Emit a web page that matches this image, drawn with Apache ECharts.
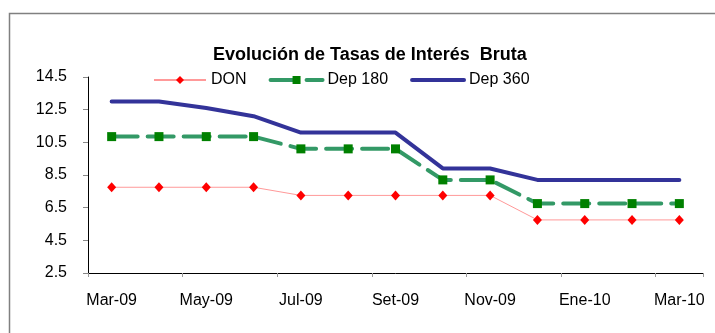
<!DOCTYPE html>
<html>
<head>
<meta charset="utf-8">
<script src="https://cdn.jsdelivr.net/npm/echarts@6/dist/echarts.min.js"></script>
<style>
  html, body { margin: 0; padding: 0; background: #ffffff; }
  #chart { width: 715px; height: 333px; }
</style>
</head>
<body>
<div id="chart"></div>
<script>
// Monthly categories, March 2009 to March 2010
const months = ['Mar-09', 'Abr-09', 'May-09', 'Jun-09', 'Jul-09', 'Ago-09', 'Set-09',
                'Oct-09', 'Nov-09', 'Dic-09', 'Ene-10', 'Feb-10', 'Mar-10'];

// Gross interest rates (%)
const don    = [7.75, 7.75, 7.75, 7.75, 7.25, 7.25, 7.25, 7.25, 7.25, 5.75, 5.75, 5.75, 5.75];
const dep180 = [10.85, 10.85, 10.85, 10.85, 10.1, 10.1, 10.1, 8.2, 8.2, 6.75, 6.75, 6.75, 6.75];
const dep360 = [13.0, 13.0, 12.6, 12.1, 11.1, 11.1, 11.1, 8.9, 8.9, 8.2, 8.2, 8.2, 8.2];

// Value-axis tick labels
const yTicks = [2.5, 4.5, 6.5, 8.5, 10.5, 12.5, 14.5];

const FONT = "'Liberation Sans', Arial, sans-serif";

const chart = echarts.init(document.getElementById('chart'), null, { renderer: 'canvas' });

chart.setOption({
  backgroundColor: '#ffffff',
  animation: false,
  graphic: [{
    type: 'rect',
    shape: { x: 9.5, y: 13.5, width: 720, height: 340 },
    style: { fill: 'none', stroke: '#808080', lineWidth: 1.5 },
    silent: true
  }],
  title: {
    text: 'Evolución de Tasas de Interés  Bruta',
    left: 213,
    top: 46,
    padding: 0,
    textStyle: { fontFamily: FONT, fontSize: 18, fontWeight: 'bold', color: '#000000' }
  },
  legend: {
    left: 153,
    top: 72,
    padding: 0,
    itemGap: 22,
    itemWidth: 52,
    itemHeight: 10,
    textStyle: { fontFamily: FONT, fontSize: 16, color: '#000000' },
    data: [
      'DON',
      { name: 'Dep 180', lineStyle: { width: 4 } },
      // plain line, no marker in the key
      { name: 'Dep 360', itemStyle: { opacity: 0 }, lineStyle: { width: 4 } }
    ]
  },
  grid: { left: 88, right: 12, top: 77, bottom: 60, containLabel: false },
  xAxis: {
    type: 'category',
    data: months,
    boundaryGap: true,
    axisLine: { lineStyle: { color: '#000000', width: 1 } },
    axisTick: { show: true, interval: 1, length: 4, lineStyle: { color: '#999999' } },
    axisLabel: { interval: 1, margin: 20, fontFamily: FONT, fontSize: 16, color: '#000000' },
    splitLine: { show: false }
  },
  yAxis: {
    type: 'value',
    min: 2.5,
    max: 14.5,
    axisLine: { show: true, lineStyle: { color: '#000000', width: 1 } },
    axisTick: { show: true, length: 5, customValues: yTicks, lineStyle: { color: '#888888' } },
    axisLabel: {
      customValues: yTicks,
      margin: 21,
      fontFamily: FONT, fontSize: 16, color: '#000000',
      formatter: v => v.toFixed(1)
    },
    splitLine: { show: false }
  },
  series: [
    {
      name: 'DON',
      type: 'line',
      data: don,
      symbol: 'diamond',
      symbolSize: [9, 10],
      itemStyle: { color: '#ff0000' },
      lineStyle: { color: '#ff9999', width: 1 },
      z: 2
    },
    {
      name: 'Dep 180',
      type: 'line',
      data: dep180,
      symbol: 'rect',
      symbolSize: 9,
      itemStyle: { color: '#008000' },
      lineStyle: { color: '#339966', width: 4, type: [26, 10], cap: 'round' },
      z: 3
    },
    {
      name: 'Dep 360',
      type: 'line',
      data: dep360,
      symbol: 'none',
      itemStyle: { color: '#333399' },
      lineStyle: { color: '#333399', width: 4, cap: 'round' },
      z: 4
    }
  ]
});
</script>
</body>
</html>
